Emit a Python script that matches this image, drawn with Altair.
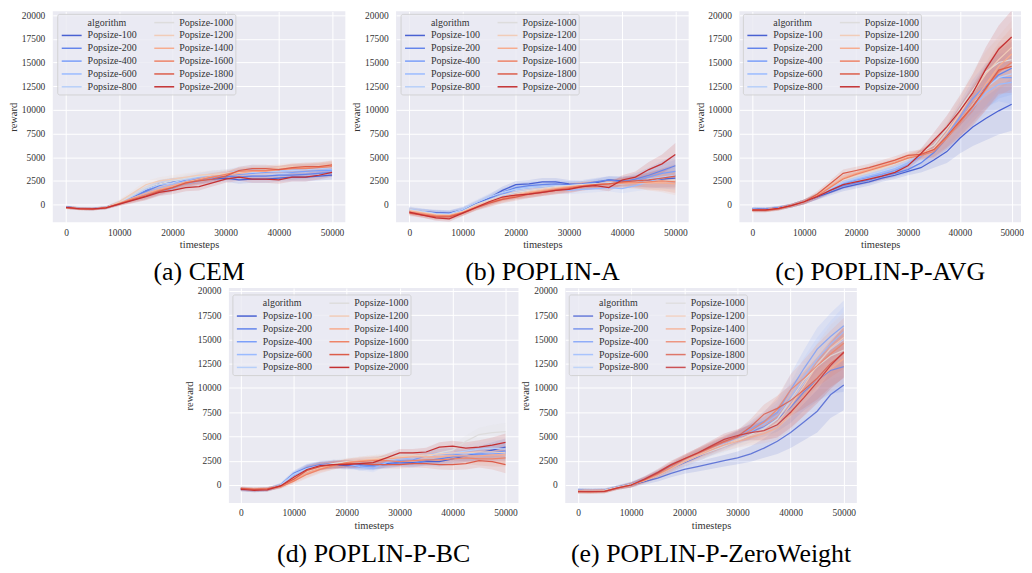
import altair as alt
import pandas as pd

# ---------------- data ----------------
T = [0, 2500, 5000, 7500, 10000, 12500, 15000, 17500, 20000, 22500, 25000,
     27500, 30000, 32500, 35000, 37500, 40000, 42500, 45000, 47500, 50000]

NAMES = ["Popsize-100", "Popsize-200", "Popsize-400", "Popsize-600", "Popsize-800",
         "Popsize-1000", "Popsize-1200", "Popsize-1400", "Popsize-1600", "Popsize-1800",
         "Popsize-2000"]
COLORS = ["#4961d2", "#6384eb", "#7b9ff9", "#9abbff", "#b7cff9", "#dddcdc",
          "#f1ccb8", "#f7ac8e", "#ee8468", "#dc5d4a", "#c43032"]

X_TICKS = [0, 10000, 20000, 30000, 40000, 50000]
Y_TICKS = [0, 2500, 5000, 7500, 10000, 12500, 15000, 17500, 20000]

CEM = {
    "Popsize-100":  [-250, -400, -450, -300, 200, 900, 1500, 2200, 2400, 2500, 2600, 2700, 2800, 2600, 2700, 2700, 2800, 2900, 2900, 3000, 3100],
    "Popsize-200":  [-300, -420, -450, -320, 150, 800, 1400, 2000, 2400, 2500, 2700, 2900, 3000, 2900, 3000, 3000, 3100, 3100, 3200, 3300, 3400],
    "Popsize-400":  [-300, -400, -430, -330, 100, 600, 1000, 1400, 1700, 2200, 2500, 2800, 3100, 3200, 3300, 3400, 3500, 3400, 3500, 3600, 3600],
    "Popsize-600":  [-300, -430, -460, -340, 120, 700, 1200, 1700, 2100, 2500, 2900, 3200, 3300, 3600, 3800, 3700, 3600, 3700, 3800, 3800, 3700],
    "Popsize-800":  [-280, -420, -450, -330, 200, 900, 1600, 2100, 2300, 2700, 3000, 3100, 3200, 3300, 3400, 3500, 3500, 3600, 3700, 3800, 3900],
    "Popsize-1000": [-300, -410, -440, -320, 250, 1000, 1800, 2200, 2500, 2800, 3000, 3200, 3300, 3400, 3500, 3600, 3700, 3800, 3900, 4000, 4100],
    "Popsize-1200": [-300, -420, -450, -310, 300, 1200, 2100, 2500, 2700, 2900, 3100, 3200, 3300, 3500, 3600, 3700, 3900, 4000, 3900, 4100, 4200],
    "Popsize-1400": [-310, -430, -460, -330, 150, 700, 1200, 1600, 2000, 2400, 2700, 3000, 3100, 3300, 3500, 3500, 3700, 3800, 3900, 4000, 4100],
    "Popsize-1600": [-320, -440, -470, -340, 100, 600, 1000, 1500, 1800, 2200, 2600, 2900, 3200, 3500, 3600, 3600, 3700, 3800, 3800, 3900, 4000],
    "Popsize-1800": [-320, -440, -470, -350, 80, 500, 900, 1400, 1800, 2300, 2500, 2700, 3000, 3600, 3800, 3800, 3700, 3900, 4000, 4000, 4200],
    "Popsize-2000": [-300, -420, -450, -340, 60, 450, 850, 1300, 1500, 1800, 1900, 2300, 2700, 2900, 2700, 2700, 2600, 2900, 2900, 3100, 3400],
}
CEM_SPREAD = [150, 150, 150, 150, 200, 300, 400, 400, 400, 400, 400, 400, 400, 400, 400, 400, 400, 450, 450, 450, 450]

POPLIN_A = {
    "Popsize-100":  [-600, -750, -850, -900, -550, 100, 700, 1500, 2100, 2200, 2400, 2400, 2200, 2100, 2300, 2600, 2500, 2400, 2600, 2700, 2800],
    "Popsize-200":  [-700, -800, -900, -950, -600, 0, 600, 1300, 1800, 2000, 2100, 2200, 2100, 2200, 2400, 2600, 2400, 2700, 3100, 3600, 4100],
    "Popsize-400":  [-600, -800, -950, -1000, -650, -100, 500, 1100, 1600, 1800, 1900, 2000, 2000, 2100, 2200, 2300, 2200, 2500, 2900, 3300, 3500],
    "Popsize-600":  [-500, -750, -1000, -1050, -700, -100, 400, 900, 1300, 1500, 1600, 1700, 1500, 1600, 1700, 1800, 1700, 2000, 2400, 2800, 3100],
    "Popsize-800":  [-500, -700, -950, -1000, -500, 200, 800, 1300, 1600, 1800, 1900, 2000, 2000, 2100, 2200, 2300, 2200, 2400, 2700, 2900, 3100],
    "Popsize-1000": [-550, -800, -1000, -1100, -700, 0, 500, 1000, 1300, 1500, 1700, 1900, 2000, 2100, 2200, 2300, 2300, 2300, 2400, 2500, 2600],
    "Popsize-1200": [-600, -850, -1050, -1100, -750, -100, 400, 800, 1100, 1400, 1600, 1800, 1900, 2000, 2100, 2200, 2200, 2300, 2300, 2400, 2500],
    "Popsize-1400": [-700, -900, -1100, -1150, -800, -200, 300, 700, 1000, 1300, 1500, 1700, 1900, 2000, 2100, 2200, 2300, 2400, 2300, 2300, 2200],
    "Popsize-1600": [-800, -1000, -1200, -1200, -850, -300, 200, 600, 900, 1200, 1400, 1600, 1800, 2000, 2100, 2200, 2300, 2300, 2400, 2500, 2400],
    "Popsize-1800": [-900, -1100, -1300, -1300, -900, -350, 150, 550, 800, 1100, 1300, 1500, 1700, 1900, 2100, 2200, 2400, 2500, 2600, 2800, 3000],
    "Popsize-2000": [-800, -1100, -1400, -1500, -900, -300, 300, 800, 1000, 1100, 1300, 1500, 1600, 1900, 2000, 1800, 2600, 2900, 3700, 4300, 5300],
}
POPLIN_A_SPREAD = [300, 300, 300, 300, 300, 300, 400, 400, 400, 400, 400, 400, 400, 400, 400, 400, 500, 600, 800, 1000, 1200]

POPLIN_P_AVG = {
    "Popsize-100":  [-450, -500, -350, -100, 300, 800, 1300, 1800, 2100, 2400, 2800, 3100, 3500, 3900, 4700, 5600, 7000, 8200, 9100, 9900, 10600],
    "Popsize-200":  [-450, -500, -350, -100, 300, 850, 1500, 2000, 2300, 2600, 3000, 3300, 3700, 4400, 5500, 7000, 8800, 10700, 12400, 13700, 14400],
    "Popsize-400":  [-500, -500, -350, -100, 300, 900, 1600, 2200, 2600, 2900, 3200, 3600, 4200, 5100, 5900, 7300, 9200, 11200, 12600, 13400, 13400],
    "Popsize-600":  [-500, -550, -400, -100, 300, 900, 1600, 2300, 2700, 3000, 3400, 3800, 4400, 5200, 5900, 7000, 8600, 10200, 11800, 12700, 12900],
    "Popsize-800":  [-500, -550, -400, -100, 300, 900, 1700, 2400, 2800, 3200, 3600, 4000, 4600, 5300, 5800, 7000, 8800, 10600, 12300, 13400, 13800],
    "Popsize-1000": [-500, -550, -400, -100, 300, 950, 1800, 2600, 3000, 3400, 3800, 4300, 4800, 5500, 6300, 8000, 10100, 12100, 14000, 15000, 15300],
    "Popsize-1200": [-550, -550, -400, -100, 300, 1000, 1900, 2700, 3100, 3500, 3900, 4400, 4900, 5400, 5900, 7600, 9600, 11800, 13800, 15300, 16600],
    "Popsize-1400": [-550, -550, -400, -100, 300, 950, 1900, 2800, 3300, 3700, 4100, 4500, 5000, 5400, 5800, 7200, 8800, 10700, 12700, 14600, 15900],
    "Popsize-1600": [-600, -600, -450, -100, 300, 900, 1800, 2700, 3200, 3600, 4000, 4400, 4900, 5200, 5600, 7000, 8600, 10300, 12200, 14000, 15000],
    "Popsize-1800": [-600, -600, -450, -100, 300, 1100, 2200, 3300, 3600, 3900, 4300, 4700, 5200, 5300, 5800, 7200, 8800, 10400, 12300, 14200, 14600],
    "Popsize-2000": [-550, -550, -400, -100, 300, 850, 1500, 2100, 2400, 2700, 3000, 3400, 4100, 5400, 6800, 8200, 9900, 11800, 14300, 16400, 17700],
}
POPLIN_P_AVG_SPREAD = [200, 200, 200, 200, 250, 300, 350, 400, 400, 400, 400, 400, 400, 500, 800, 1200, 1600, 2000, 2300, 2500, 2800]

POPLIN_P_BC = {
    "Popsize-100":  [-400, -500, -450, -100, 1000, 1700, 2000, 2100, 2000, 2100, 2000, 2200, 2300, 2300, 2400, 2400, 2700, 3000, 3300, 3600, 3900],
    "Popsize-200":  [-400, -500, -450, 0, 1200, 1800, 2100, 2200, 2100, 1900, 2000, 2100, 2300, 2200, 2500, 2700, 2900, 3000, 3200, 3400, 3500],
    "Popsize-400":  [-450, -500, -450, -50, 1100, 1700, 2000, 2100, 2200, 2000, 1900, 2300, 2500, 2600, 3000, 3200, 3200, 3000, 3100, 3200, 3300],
    "Popsize-600":  [-450, -550, -450, -50, 1000, 1600, 1900, 2100, 2200, 1900, 1700, 2300, 2700, 2800, 3100, 3300, 3300, 3200, 3300, 3300, 3400],
    "Popsize-800":  [-450, -550, -450, 0, 1100, 1700, 2000, 2200, 2300, 2400, 2500, 2600, 2800, 2900, 3000, 3200, 3300, 3500, 3700, 3800, 3700],
    "Popsize-1000": [-400, -500, -450, -100, 800, 1500, 1900, 2200, 2400, 2500, 2700, 2900, 3100, 3100, 2900, 3300, 3600, 4500, 5200, 5400, 5500],
    "Popsize-1200": [-400, -450, -400, -150, 700, 1400, 1800, 2100, 2300, 2500, 2700, 2800, 2900, 3000, 3100, 3200, 3300, 3300, 3400, 3400, 3300],
    "Popsize-1400": [-350, -450, -400, -200, 500, 1200, 1700, 2000, 2300, 2500, 2600, 2700, 2800, 2900, 2900, 2900, 3000, 3000, 3000, 3100, 3100],
    "Popsize-1600": [-400, -450, -400, -200, 400, 1100, 1600, 2000, 2300, 2400, 2500, 2500, 2400, 2500, 2600, 2600, 2700, 2800, 2700, 2700, 2800],
    "Popsize-1800": [-350, -450, -400, -100, 600, 1500, 1900, 2100, 2200, 2200, 2100, 2100, 2100, 2200, 2200, 2100, 2100, 2200, 2500, 2400, 2100],
    "Popsize-2000": [-450, -550, -500, -100, 800, 1600, 2000, 2100, 2100, 2200, 2300, 2800, 3300, 3300, 3400, 3900, 4000, 3800, 3900, 4100, 4400],
}
POPLIN_P_BC_SPREAD = [200, 200, 200, 200, 300, 400, 400, 400, 400, 400, 400, 400, 400, 400, 450, 500, 550, 600, 700, 800, 900]

POPLIN_P_ZW = {
    "Popsize-100":  [-550, -600, -550, -250, 0, 350, 700, 1200, 1600, 1900, 2200, 2500, 2800, 3200, 3800, 4500, 5400, 6500, 7600, 9300, 10300],
    "Popsize-200":  [-550, -600, -550, -250, 50, 500, 1100, 1700, 2300, 2900, 3600, 4200, 4900, 5500, 6000, 6800, 8000, 9600, 10800, 11800, 12200],
    "Popsize-400":  [-550, -600, -550, -200, 100, 600, 1200, 1900, 2600, 3200, 3800, 4400, 5000, 5800, 6600, 7500, 9800, 12000, 14000, 15300, 16400],
    "Popsize-600":  [-550, -600, -550, -250, 50, 500, 1100, 1800, 2500, 3100, 3700, 4300, 4800, 5500, 6300, 7200, 9000, 11200, 13000, 14500, 15800],
    "Popsize-800":  [-550, -600, -550, -250, 50, 500, 1000, 1700, 2400, 3000, 3500, 4000, 4500, 5200, 5900, 6800, 8600, 10500, 12500, 14000, 15000],
    "Popsize-1000": [-600, -600, -550, -250, 50, 450, 1000, 1700, 2400, 3000, 3500, 4000, 4600, 5200, 5800, 6800, 8800, 10800, 12200, 13300, 13900],
    "Popsize-1200": [-600, -650, -600, -250, 50, 500, 1100, 1800, 2500, 3100, 3700, 4200, 4700, 5100, 5500, 6400, 8200, 10200, 12400, 14100, 15200],
    "Popsize-1400": [-650, -650, -600, -300, 0, 450, 1000, 1700, 2400, 3000, 3600, 4100, 4500, 4900, 5300, 5900, 7300, 9100, 10800, 12000, 13000],
    "Popsize-1600": [-650, -700, -650, -300, 0, 500, 1100, 1800, 2600, 3200, 3800, 4400, 4900, 5600, 6500, 7800, 9800, 11000, 12300, 13500, 14600],
    "Popsize-1800": [-700, -700, -650, -300, 0, 550, 1200, 2000, 2700, 3300, 3900, 4500, 5000, 6000, 7300, 7900, 8700, 9800, 11000, 12500, 13600],
    "Popsize-2000": [-650, -650, -650, -300, 0, 600, 1300, 2100, 2700, 3300, 4000, 4700, 5100, 5400, 5600, 6200, 7500, 9000, 10600, 12300, 13700],
}
POPLIN_P_ZW_SPREAD = [200, 200, 200, 200, 250, 300, 350, 400, 450, 500, 550, 600, 650, 800, 1000, 1300, 1600, 1900, 2200, 2400, 2600]

FONT = "Liberation Serif"
TXT = "#333333"
cscale = alt.Scale(domain=NAMES, range=COLORS)


def panel(caption, series, spread, width, height, xdom, ydom, leg_x, leg_y,
          line_op=1.0, cap_offset=8):
    rows = []
    for name in NAMES:
        for t, v, s in zip(T, series[name], spread):
            rows.append({"algorithm": name, "t": t, "reward": v, "lo": v - s, "hi": v + s})
    df = pd.DataFrame(rows)

    xs = alt.Scale(domain=xdom, nice=False, zero=False)
    ys = alt.Scale(domain=ydom, nice=False, zero=False)
    xaxis = alt.Axis(values=X_TICKS, format="d", title="timesteps", labelPadding=5,
                     titlePadding=3, labelOverlap=False, gridColor="white", gridWidth=1)
    yaxis = alt.Axis(values=Y_TICKS, format="d", title="reward", labelPadding=8,
                     titleX=-34.5, titleY=height / 2, labelOverlap=False,
                     gridColor="white", gridWidth=1)
    color = alt.Color("algorithm:N", scale=cscale, legend=None)

    base = alt.Chart(df)
    band = base.mark_area(opacity=0.14, clip=True).encode(
        x=alt.X("t:Q", scale=xs, axis=xaxis),
        y=alt.Y("lo:Q", scale=ys, axis=yaxis),
        y2="hi:Q",
        color=color,
    )
    line = base.mark_line(strokeWidth=1.25, clip=True, opacity=line_op).encode(
        x=alt.X("t:Q", scale=xs, axis=xaxis),
        y=alt.Y("reward:Q", scale=ys, axis=yaxis),
        color=color,
    )
    main = alt.layer(band, line)

    # legend (drawn like matplotlib: title as first entry, two columns, column-major)
    labels = ["algorithm"] + NAMES
    lrows = []
    for i, lab in enumerate(labels):
        col = 0 if i < 6 else 1
        r = i if i < 6 else i - 6
        lx = leg_x + (4 if col == 0 else 97)
        lrows.append({"algorithm": lab, "label": lab, "lx1": lx, "lx2": lx + 20,
                      "tx": leg_x + (30 if col == 0 else 122), "ly": leg_y + 8.3 + r * 12.9})
    ldf = pd.DataFrame(lrows)
    box = alt.Chart(pd.DataFrame({"a": [0]})).mark_rect(
        fill="#EAEAF2", fillOpacity=0.8, stroke="#CCCCCC", strokeWidth=0.8, cornerRadius=2
    ).encode(x=alt.value(leg_x), x2=alt.value(leg_x + 179),
             y=alt.value(leg_y), y2=alt.value(leg_y + 81))
    lrule = alt.Chart(ldf).transform_filter(alt.datum.label != "algorithm").mark_rule(
        strokeWidth=1.5, opacity=line_op
    ).encode(
        x=alt.X("lx1:Q", scale=None, axis=None), x2="lx2:Q",
        y=alt.Y("ly:Q", scale=None, axis=None),
        color=alt.Color("algorithm:N", scale=cscale, legend=None),
    )
    ltext = alt.Chart(ldf).mark_text(
        align="left", baseline="middle", font=FONT, fontSize=10, color=TXT
    ).encode(
        x=alt.X("tx:Q", scale=None, axis=None),
        y=alt.Y("ly:Q", scale=None, axis=None),
        text="label:N",
    )
    return alt.layer(main, box, lrule, ltext).resolve_scale(
        x="independent", y="independent"
    ).properties(
        width=width, height=height,
        title=alt.TitleParams(caption, orient="bottom", anchor="middle", font=FONT,
                              fontSize=26, fontWeight="normal", color="black",
                              offset=cap_offset),
    )


TOP_Y = [-1870, 20400]
BOT_Y = [-1850, 20300]

pa = panel("(a) CEM", CEM, CEM_SPREAD, 294, 212, [-2500, 52500], TOP_Y, 5, 3, cap_offset=9)
pb = panel("(b) POPLIN-A", POPLIN_A, POPLIN_A_SPREAD, 294, 212, [-2500, 52500], TOP_Y, 5, 3, cap_offset=9)
pc = panel("(c) POPLIN-P-AVG", POPLIN_P_AVG, POPLIN_P_AVG_SPREAD, 283, 212, [-2500, 51800], TOP_Y, 4, 3, cap_offset=9)
pd_ = panel("(d) POPLIN-P-BC", POPLIN_P_BC, POPLIN_P_BC_SPREAD, 291, 216, [-2250, 52450], BOT_Y, 4, 7, cap_offset=10)
pe = panel("(e) POPLIN-P-ZeroWeight", POPLIN_P_ZW, POPLIN_P_ZW_SPREAD, 293, 216, [-2400, 52450], BOT_Y, 4, 7, 0.82, cap_offset=10)

spacer = alt.Chart(pd.DataFrame({"a": [0]})).mark_point(opacity=0).encode(
    x=alt.value(0), y=alt.value(0)
).properties(width=130, height=10, view=alt.ViewBackground(fill="transparent", strokeWidth=0))

row1 = alt.hconcat(pa, pb, pc, spacing=51, bounds="flush")
row2 = alt.hconcat(spacer, pd_, pe, spacing=47, bounds="flush")

chart = alt.vconcat(row1, row2, spacing=0).properties(
    padding=0, background="white"
).configure_view(
    fill="#EAEAF2", strokeWidth=0
).configure_axis(
    grid=True, gridColor="white", gridWidth=1, domain=False, ticks=False, tickSize=0,
    labelFont=FONT, labelFontSize=9.5, labelColor=TXT,
    titleFont=FONT, titleFontSize=10.5, titleFontWeight="normal", titleColor=TXT,
)

chart.save("out.html", embed_options={"renderer": "svg", "actions": False})
